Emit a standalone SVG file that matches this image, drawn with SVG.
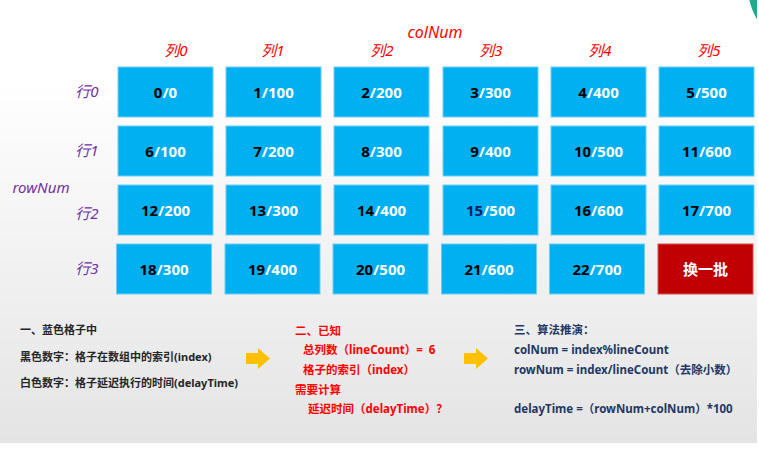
<svg xmlns="http://www.w3.org/2000/svg" width="759" height="450" viewBox="0 0 759 450">
<defs>
<linearGradient id="bg" x1="0" y1="0" x2="0" y2="1">
<stop offset="0" stop-color="#ffffff"/>
<stop offset="0.18" stop-color="#ffffff"/>
<stop offset="1" stop-color="#e4e4e4"/>
</linearGradient>
<clipPath id="slide"><rect x="0" y="0" width="757" height="443"/></clipPath>
<style>
.cell{fill:#00B0F0;stroke:#6fcdf2;stroke-width:1}
.red{fill:#C00000;stroke:#d95050;stroke-width:1}
.ct{font-family:"Noto Sans","Noto Sans CJK SC",sans-serif;font-weight:bold;font-size:15px;fill:#ffffff;text-anchor:middle}
.k{fill:#000000}
.hd{font-family:"Noto Sans","Noto Sans CJK SC",sans-serif;font-style:italic;font-size:15px;fill:#FF0000;text-anchor:middle}
.big{font-size:16px}
.rw{font-family:"Noto Sans","Noto Sans CJK SC",sans-serif;font-style:italic;font-size:15px;fill:#7030A0;text-anchor:middle}
.t{font-family:"Noto Sans","Noto Sans CJK SC",sans-serif;font-weight:bold;font-size:11px;white-space:pre}
.t1{fill:#262626}
.t2{fill:#FF0000;font-size:11.5px}
.t3{fill:#1F3864;font-size:11.5px}
.arr{fill:#FFC000}
</style>
</defs>
<rect x="0" y="0" width="759" height="450" fill="#ffffff"/>
<g clip-path="url(#slide)">
<rect x="0" y="0" width="757" height="443" fill="url(#bg)"/>
<circle cx="810" cy="-13" r="62" fill="#1FAA8A"/>
</g>

<g id="headers">
<text class="hd big" x="435" y="38">colNum</text>
<text class="hd" x="176" y="56">列0</text>
<text class="hd" x="273" y="56">列1</text>
<text class="hd" x="382" y="56">列2</text>
<text class="hd" x="491" y="56">列3</text>
<text class="hd" x="600" y="56">列4</text>
<text class="hd" x="709" y="56">列5</text>
<text class="rw big" x="41" y="193">rowNum</text>
<text class="rw" x="87" y="97">行0</text>
<text class="rw" x="87" y="156">行1</text>
<text class="rw" x="87" y="219">行2</text>
<text class="rw" x="87" y="274">行3</text>
</g>

<g id="cell-0"><rect class="cell" x="118" y="67" width="95" height="50"/><text class="ct" x="165.5" y="97.5"><tspan class="k">0</tspan>/0</text></g>
<g id="cell-1"><rect class="cell" x="226" y="67" width="95" height="50"/><text class="ct" x="273.5" y="97.5"><tspan class="k">1</tspan>/100</text></g>
<g id="cell-2"><rect class="cell" x="334" y="67" width="95" height="50"/><text class="ct" x="381.5" y="97.5"><tspan class="k">2</tspan>/200</text></g>
<g id="cell-3"><rect class="cell" x="443" y="67" width="95" height="50"/><text class="ct" x="490.5" y="97.5"><tspan class="k">3</tspan>/300</text></g>
<g id="cell-4"><rect class="cell" x="551" y="67" width="95" height="50"/><text class="ct" x="598.5" y="97.5"><tspan class="k">4</tspan>/400</text></g>
<g id="cell-5"><rect class="cell" x="659" y="67" width="95" height="50"/><text class="ct" x="706.5" y="97.5"><tspan class="k">5</tspan>/500</text></g>

<g id="cell-6"><rect class="cell" x="118" y="126" width="95" height="50"/><text class="ct" x="165.5" y="156.5"><tspan class="k">6</tspan>/100</text></g>
<g id="cell-7"><rect class="cell" x="226" y="126" width="95" height="50"/><text class="ct" x="273.5" y="156.5"><tspan class="k">7</tspan>/200</text></g>
<g id="cell-8"><rect class="cell" x="334" y="126" width="95" height="50"/><text class="ct" x="381.5" y="156.5"><tspan class="k">8</tspan>/300</text></g>
<g id="cell-9"><rect class="cell" x="443" y="126" width="95" height="50"/><text class="ct" x="490.5" y="156.5"><tspan class="k">9</tspan>/400</text></g>
<g id="cell-10"><rect class="cell" x="551" y="126" width="95" height="50"/><text class="ct" x="598.5" y="156.5"><tspan class="k">10</tspan>/500</text></g>
<g id="cell-11"><rect class="cell" x="659" y="126" width="95" height="50"/><text class="ct" x="706.5" y="156.5"><tspan class="k">11</tspan>/600</text></g>

<g id="cell-12"><rect class="cell" x="118" y="185" width="95" height="50"/><text class="ct" x="165.5" y="215.5"><tspan class="k">12</tspan>/200</text></g>
<g id="cell-13"><rect class="cell" x="226" y="185" width="95" height="50"/><text class="ct" x="273.5" y="215.5"><tspan class="k">13</tspan>/300</text></g>
<g id="cell-14"><rect class="cell" x="334" y="185" width="95" height="50"/><text class="ct" x="381.5" y="215.5"><tspan class="k">14</tspan>/400</text></g>
<g id="cell-15"><rect class="cell" x="443" y="185" width="95" height="50"/><text class="ct" x="490.5" y="215.5"><tspan fill="#002060">15</tspan>/500</text></g>
<g id="cell-16"><rect class="cell" x="551" y="185" width="95" height="50"/><text class="ct" x="598.5" y="215.5"><tspan class="k">16</tspan>/600</text></g>
<g id="cell-17"><rect class="cell" x="659" y="185" width="95" height="50"/><text class="ct" x="706.5" y="215.5"><tspan class="k">17</tspan>/700</text></g>

<g id="cell-18"><rect class="cell" x="116.5" y="244" width="95" height="50"/><text class="ct" x="164" y="274.5"><tspan class="k">18</tspan>/300</text></g>
<g id="cell-19"><rect class="cell" x="225" y="244" width="95" height="50"/><text class="ct" x="272.5" y="274.5"><tspan class="k">19</tspan>/400</text></g>
<g id="cell-20"><rect class="cell" x="333" y="244" width="95" height="50"/><text class="ct" x="380.5" y="274.5"><tspan class="k">20</tspan>/500</text></g>
<g id="cell-21"><rect class="cell" x="441.5" y="244" width="95" height="50"/><text class="ct" x="489" y="274.5"><tspan class="k">21</tspan>/600</text></g>
<g id="cell-22"><rect class="cell" x="549.5" y="244" width="95" height="50"/><text class="ct" x="597" y="274.5"><tspan class="k">22</tspan>/700</text></g>
<g id="cell-refresh"><rect class="red" x="658" y="244" width="95" height="50"/><text class="ct" x="705.5" y="274.5" font-family="Noto Sans CJK SC, sans-serif" font-size="14">换一批</text></g>

<g id="arrows">
<polygon class="arr" points="246,353 258,353 258,348 270,358.5 258,369 258,364 246,364"/>
<polygon class="arr" points="464,353 476,353 476,348 488,358.5 476,369 476,364 464,364"/>
</g>

<g id="note-1" class="t t1">
<text x="20" y="334">一、蓝色格子中</text>
<text x="20" y="361">黑色数字：格子在数组中的索引(index)</text>
<text x="20" y="387">白色数字：格子延迟执行的时间(delayTime)</text>
</g>
<g id="note-2" class="t t2">
<text x="295" y="335">二、已知</text>
<text x="303" y="354" xml:space="preserve">总列数（lineCount）=  6</text>
<text x="303" y="374">格子的索引（index）</text>
<text x="295" y="394">需要计算</text>
<text x="308" y="413">延迟时间（delayTime）？</text>
</g>
<g id="note-3" class="t t3">
<text x="514" y="334">三、算法推演：</text>
<text x="514" y="354">colNum = index%lineCount</text>
<text x="514" y="374">rowNum = index/lineCount（去除小数）</text>
<text x="514" y="413">delayTime =（rowNum+colNum）*100</text>
</g>
</svg>
